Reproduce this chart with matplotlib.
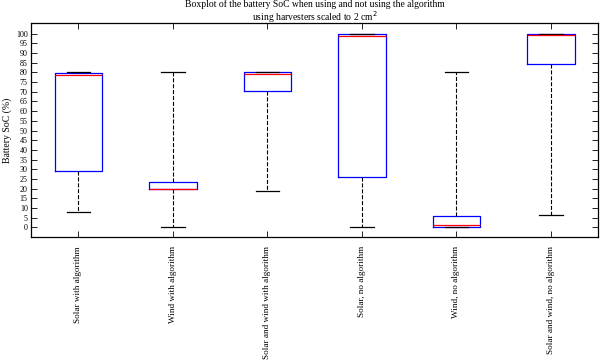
import matplotlib
matplotlib.use("Agg")
import matplotlib.pyplot as plt

categories = ["Solar with algorithm", "Wind with algorithm", "Solar and wind with algorithm",
              "Solar, no algorithm", "Wind, no algorithm", "Solar and wind, no algorithm"]
whislo = [7.9, 0.2, 18.8, 0.0, 0.0, 6.5]
q1 = [28.9, 19.8, 70.2, 25.8, 0.3, 84.3]
med = [78.8, 20.0, 79.2, 99.0, 1.3, 99.5]
q3 = [79.9, 23.2, 80.0, 99.8, 5.8, 100.0]
whishi = [80.0, 80.0, 80.0, 100.0, 80.4, 100.0]
yticks = list(range(0, 101, 5))

plt.rcParams['font.family'] = ['Liberation Serif', 'DejaVu Serif']

stats = []
for lab, lo, a, m, b, hi in zip(categories, whislo, q1, med, q3, whishi):
    stats.append(dict(label=lab, whislo=lo, q1=a, med=m, q3=b, whishi=hi, fliers=[]))

fig = plt.figure(figsize=(6.0, 3.61), dpi=100)
ax = fig.add_axes([0.052, 0.343, 0.945, 0.593])
ax.bxp(stats, widths=0.5, showfliers=False,
       boxprops=dict(color='#0000ff', linewidth=0.9),
       medianprops=dict(color='#ff0000', linewidth=0.9),
       whiskerprops=dict(color='black', linestyle='--', linewidth=0.8),
       capprops=dict(color='black', linewidth=0.9))
ax.set_xlim(0.5, 6.5)
ax.set_ylim(-5, 105.4)
ax.set_yticks(yticks)
ax.tick_params(axis='both', direction='in', length=4, width=0.6, top=True, right=True, labelsize=5.8)
ax.tick_params(axis='x', labelrotation=90, pad=6.5, labelsize=6.6)
ax.tick_params(axis='y', pad=2.5)
for s in ax.spines.values():
    s.set_linewidth(0.9)
ax.set_ylabel("Battery SoC (%)", fontsize=7, labelpad=3)
ax.set_title("Boxplot of the battery SoC when using and not using the algorithm\nusing harvesters scaled to 2 cm$^2$",
             fontsize=6.9, pad=1.5, linespacing=1.0)
fig.savefig("out.png", dpi=100)
